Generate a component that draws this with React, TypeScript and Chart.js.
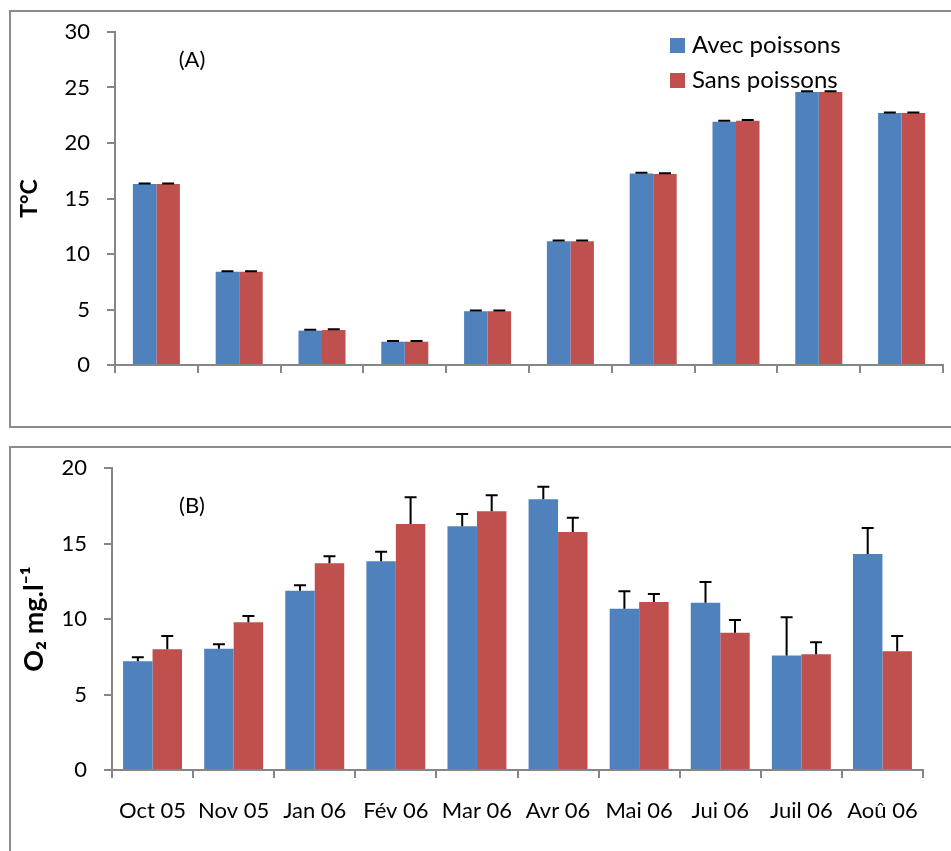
import React, { useEffect, useRef } from 'react';
import { Chart, registerables } from 'chart.js';

Chart.register(...registerables);

// ---------- data ----------
const months = ['Oct 05', 'Nov 05', 'Jan 06', 'Fév 06', 'Mar 06', 'Avr 06', 'Mai 06', 'Jui 06', 'Juil 06', 'Aoû 06'];
const seriesNames = ['Avec poissons', 'Sans poissons'];

// Panel (A): temperature
const tempAvec = [16.3, 8.4, 3.1, 2.1, 4.85, 11.15, 17.25, 21.92, 24.6, 22.7];
const tempSans = [16.3, 8.4, 3.15, 2.1, 4.85, 11.15, 17.2, 22.0, 24.6, 22.7];
const tempErrAvec = [0.05, 0.05, 0.07, 0.06, 0.06, 0.06, 0.08, 0.08, 0.06, 0.05];
const tempErrSans = [0.05, 0.05, 0.07, 0.06, 0.06, 0.06, 0.08, 0.08, 0.06, 0.05];
const tempTicks = [0, 5, 10, 15, 20, 25, 30];

// Panel (B): dissolved oxygen
const o2Avec = [7.2, 8.03, 11.87, 13.82, 16.14, 17.93, 10.68, 11.08, 7.59, 14.3];
const o2Sans = [8.0, 9.78, 13.69, 16.29, 17.13, 15.76, 11.13, 9.09, 7.66, 7.86];
const o2ErrAvec = [0.26, 0.29, 0.36, 0.64, 0.81, 0.83, 1.15, 1.37, 2.52, 1.73];
const o2ErrSans = [0.87, 0.42, 0.46, 1.77, 1.06, 0.95, 0.53, 0.84, 0.8, 1.01];
const o2Ticks = [0, 5, 10, 15, 20];

// ---------- style ----------
const BLUE = '#4F81BD';
const RED = '#C0504D';
const AXIS = '#868686';
const FONT = 'Lato, "DejaVu Sans", sans-serif';

const errorBarPlugin = {
  id: 'errorBars',
  afterDatasetsDraw(chart: any, _args: any, opts: any) {
    const errs: number[][] = opts.errors || [];
    const ctx = chart.ctx;
    const y = chart.scales.y;
    ctx.save();
    ctx.strokeStyle = '#000';
    ctx.lineWidth = 2;
    errs.forEach((arr, di) => {
      const meta = chart.getDatasetMeta(di);
      const vals = chart.data.datasets[di].data as number[];
      meta.data.forEach((bar: any, i: number) => {
        const top = y.getPixelForValue(vals[i]);
        const end = y.getPixelForValue(vals[i] + arr[i]);
        ctx.beginPath();
        ctx.moveTo(bar.x, top);
        ctx.lineTo(bar.x, end);
        ctx.moveTo(bar.x - 6, end);
        ctx.lineTo(bar.x + 6, end);
        ctx.stroke();
      });
    });
    ctx.restore();
  },
};

const textPlugin = {
  id: 'panelText',
  afterDraw(chart: any, _args: any, opts: any) {
    const ctx = chart.ctx;
    ctx.save();
    ctx.fillStyle = '#000';
    ctx.textBaseline = 'middle';
    if (opts.tag) {
      ctx.font = `22px ${FONT}`;
      ctx.textAlign = 'center';
      ctx.fillText(opts.tag.text, opts.tag.x, opts.tag.y);
    }
    if (opts.legend) {
      const { x, y, gap } = opts.legend;
      ctx.font = `24px ${FONT}`;
      ctx.textAlign = 'left';
      chart.data.datasets.forEach((ds: any, i: number) => {
        const cy = y + i * gap;
        ctx.fillStyle = ds.backgroundColor;
        ctx.fillRect(x, cy - 7, 15, 15);
        ctx.fillStyle = '#000';
        ctx.fillText(ds.label, x + 22, cy);
      });
    }
    ctx.restore();
  },
};

function buildOptions(p: {
  ticks: number[];
  padTop: number;
  padRight: number;
  yWidth: number;
  xHeight: number;
  showX: boolean;
  catPct: number;
  title: string;
  titleSize: number;
  titlePad: number;
  errors: number[][];
  tag: any;
  legend?: any;
}) {
  const tickFont = { family: FONT, size: 22 };
  return {
    responsive: false,
    animation: false,
    layout: { padding: { left: 0, top: p.padTop, right: p.padRight, bottom: 0 } },
    datasets: { bar: { categoryPercentage: p.catPct, barPercentage: 1 } },
    plugins: {
      legend: { display: false },
      tooltip: { enabled: false },
      errorBars: { errors: p.errors },
      panelText: { tag: p.tag, legend: p.legend },
    },
    scales: {
      x: {
        grid: { display: true, drawOnChartArea: false, drawTicks: true, tickLength: 8, color: AXIS, lineWidth: 2, offset: true },
        border: { display: true, color: AXIS, width: 2 },
        ticks: { display: p.showX, font: tickFont, color: '#000', padding: 20, maxRotation: 0, autoSkip: false },
        afterFit: (s: any) => { s.height = p.xHeight; },
      },
      y: {
        min: p.ticks[0],
        max: p.ticks[p.ticks.length - 1],
        afterBuildTicks: (s: any) => { s.ticks = p.ticks.map((v) => ({ value: v })); },
        grid: { display: true, drawOnChartArea: false, drawTicks: true, tickLength: 8, color: AXIS, lineWidth: 2 },
        border: { display: true, color: AXIS, width: 2 },
        ticks: { font: tickFont, color: '#000', padding: 17 },
        title: {
          display: true,
          text: p.title,
          color: '#000',
          font: { family: FONT, size: p.titleSize, weight: 'bold' },
          padding: { top: p.titlePad, bottom: 0 },
        },
        afterFit: (s: any) => { s.width = p.yWidth; },
      },
    },
  };
}

function ChartCanvas({ width, height, config, style }: any) {
  const ref = useRef<HTMLCanvasElement | null>(null);
  useEffect(() => {
    if (!ref.current) return;
    const chart = new Chart(ref.current, config);
    return () => chart.destroy();
  }, []);
  return <canvas ref={ref} width={width} height={height} style={{ position: 'absolute', width, height, ...style }} />;
}

export default function App() {
  const configA: any = {
    type: 'bar',
    data: {
      labels: months,
      datasets: [
        { label: seriesNames[0], data: tempAvec, backgroundColor: BLUE },
        { label: seriesNames[1], data: tempSans, backgroundColor: RED },
      ],
    },
    options: buildOptions({
      ticks: tempTicks,
      padTop: 32,
      padRight: 8,
      yWidth: 115,
      xHeight: 63,
      showX: false,
      catPct: 0.568,
      title: 'T°C',
      titleSize: 23,
      titlePad: 16,
      errors: [tempErrAvec, tempErrSans],
      tag: { text: '(A)', x: 192, y: 60 },
      legend: { x: 670, y: 45, gap: 35 },
    }),
    plugins: [errorBarPlugin, textPlugin],
  };

  const configB: any = {
    type: 'bar',
    data: {
      labels: months,
      datasets: [
        { label: seriesNames[0], data: o2Avec, backgroundColor: BLUE },
        { label: seriesNames[1], data: o2Sans, backgroundColor: RED },
      ],
    },
    options: buildOptions({
      ticks: o2Ticks,
      padTop: 40,
      padRight: 28,
      yWidth: 112,
      xHeight: 81,
      showX: true,
      catPct: 0.727,
      title: 'O₂ mg.l⁻¹',
      titleSize: 27,
      titlePad: 18,
      errors: [o2ErrAvec, o2ErrSans],
      tag: { text: '(B)', x: 192, y: 78 },
    }),
    plugins: [errorBarPlugin, textPlugin],
  };

  const border = '2px solid #8c8c8c';
  return (
    <div style={{ position: 'absolute', left: 0, top: 0, width: 951, height: 851, overflow: 'hidden', background: '#fff' }}>
      <ChartCanvas width={951} height={428} config={configA} style={{ left: 0, top: 0 }} />
      <ChartCanvas width={951} height={423} config={configB} style={{ left: 0, top: 428 }} />
      <div style={{ position: 'absolute', left: 9, top: 10, width: 1000, height: 418, boxSizing: 'border-box', border, pointerEvents: 'none' }} />
      <div style={{ position: 'absolute', left: 9, top: 446, width: 1000, height: 500, boxSizing: 'border-box', border, pointerEvents: 'none' }} />
    </div>
  );
}
